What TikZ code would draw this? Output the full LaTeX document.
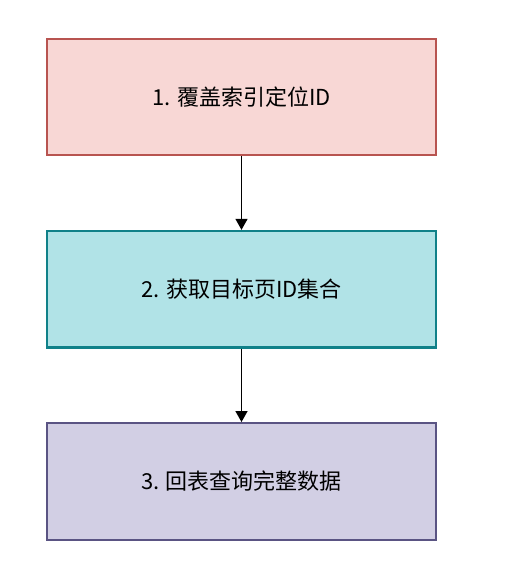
\documentclass[tikz,border=0pt]{standalone}
\usepackage{fontspec}
\newfontfamily\cjk{Noto Sans CJK SC}
\usepackage{tikz}
\usetikzlibrary{arrows.meta, positioning}
\definecolor{stepred}{HTML}{F8D7D5}
\definecolor{stepredline}{HTML}{B85450}
\definecolor{stepteal}{HTML}{B1E3E7}
\definecolor{steptealline}{HTML}{108189}
\definecolor{steppurple}{HTML}{D2CFE4}
\definecolor{steppurpleline}{HTML}{5A5483}

\begin{document}
\begin{tikzpicture}[
		texts/.style = {text=black, font=\cjk\fontsize{22}{26}\selectfont},
		stepbox/.style = {texts, rectangle, draw, line width=2.2pt, minimum width=389pt, minimum height=116.5pt, inner sep=0pt},
		redbox/.style = {stepbox, fill=stepred, draw=stepredline},
		tealbox/.style = {stepbox, fill=stepteal, draw=steptealline},
		purplebox/.style = {stepbox, fill=steppurple, draw=steppurpleline},
		flowline/.style = {draw=black, line width=1.4pt, -{Triangle[width=12pt,length=11pt]}},
		node distance = 73.5pt
		]
		\useasboundingbox (0,0) rectangle (504pt,584pt);
		\node [redbox] (covering) at (241.5pt,487pt) {1. 覆盖索引定位ID};
		\node [tealbox, below = of covering] (targetids) {2. 获取目标页ID集合};
		\node [purplebox, below = of targetids] (lookup) {3. 回表查询完整数据};
		
		\draw[flowline] (covering) -- (targetids);
		\draw[flowline] (targetids) -- (lookup);
		
		\end{tikzpicture}
\end{document}
